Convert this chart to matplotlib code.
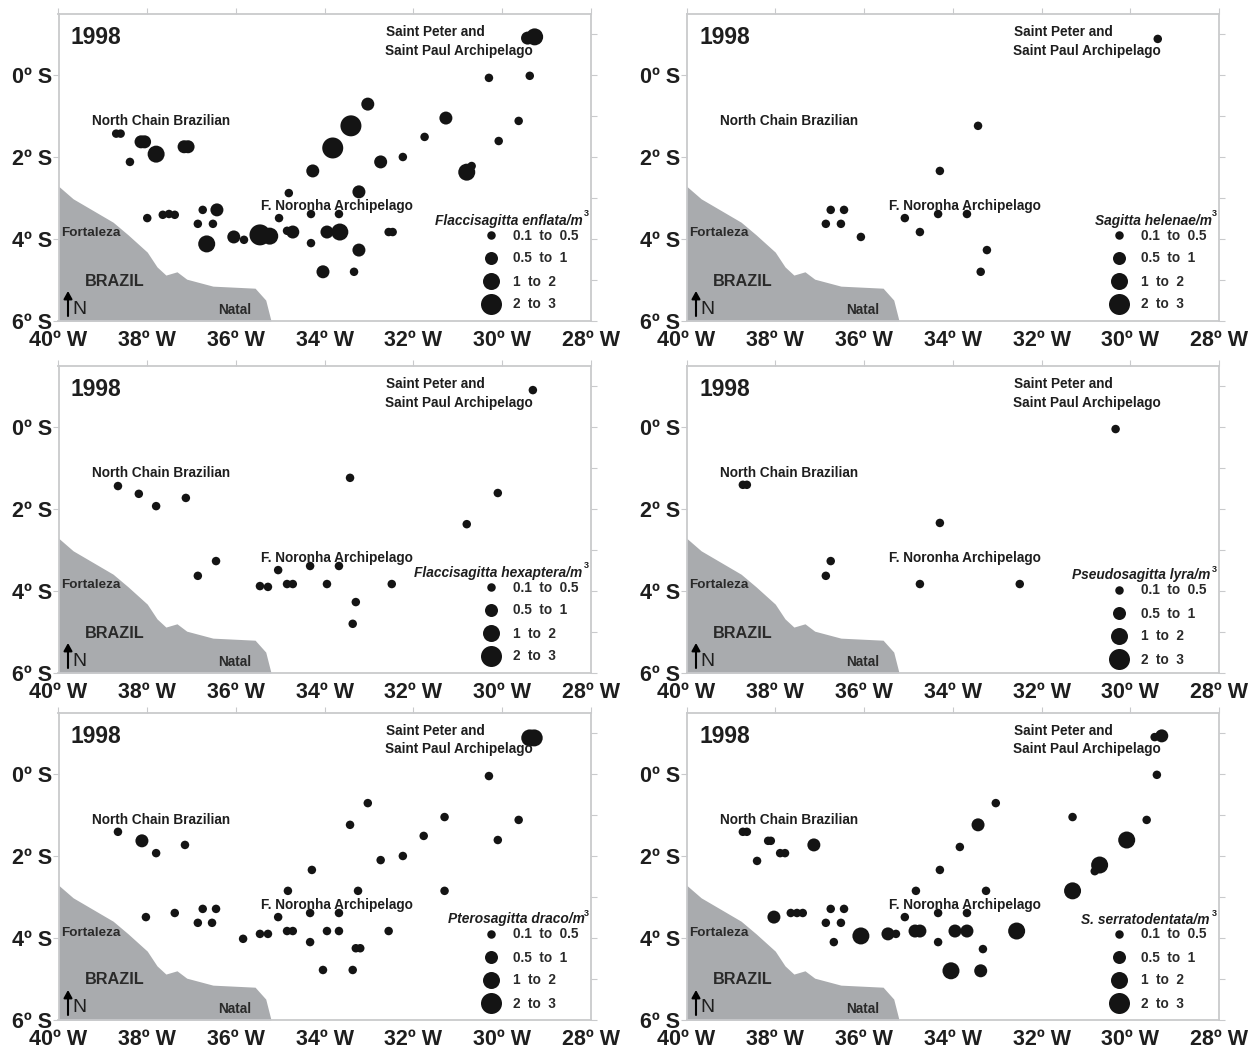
import matplotlib
matplotlib.use("Agg")
import matplotlib.pyplot as plt

W, H = 1255, 1049
plt.rcParams['font.family'] = ['Liberation Sans', 'DejaVu Sans']

# Stations: (longitude W, latitude S, size class 0..3)
enflata = [(38.7,1.43,0),(38.6,1.43,0),(38.14,1.63,1),(38.06,1.63,1),(37.80,1.93,2),(37.17,1.75,1),(37.08,1.75,1),
 (38.39,2.12,0),(38.0,3.49,0),(37.65,3.41,0),(37.51,3.39,0),(37.38,3.41,0),(36.75,3.29,0),(36.43,3.29,1),
 (36.86,3.63,0),(36.52,3.63,0),(36.66,4.12,2),(36.05,3.95,1),(35.82,4.02,0),(35.46,3.90,3),(35.24,3.93,2),
 (35.03,3.49,0),(34.81,2.88,0),(34.27,2.34,1),(34.31,3.39,0),(34.85,3.80,0),(34.72,3.83,1),(34.31,4.10,0),
 (34.04,4.80,1),(29.43,-0.90,1),(29.27,-0.93,2),(30.30,0.07,0),(29.38,0.02,0),(33.03,0.71,1),(31.27,1.05,1),
 (33.41,1.24,3),(29.63,1.12,0),(31.75,1.51,0),(30.08,1.61,0),(33.82,1.78,3),(32.74,2.12,1),(32.24,2.0,0),
 (30.69,2.22,0),(30.80,2.37,2),(33.23,2.85,1),(33.68,3.39,0),(33.95,3.83,1),(33.66,3.83,2),(32.56,3.83,0),
 (32.47,3.83,0),(33.23,4.27,1),(33.34,4.80,0)]
helenae = [(29.38,-0.88,0),(33.43,1.24,0),(34.29,2.34,0),(36.75,3.29,0),(36.45,3.29,0),(36.86,3.63,0),(36.52,3.63,0),
 (36.07,3.95,0),(35.08,3.49,0),(34.74,3.83,0),(34.33,3.39,0),(33.68,3.39,0),(33.23,4.27,0),(33.37,4.80,0)]
hexaptera = [(29.31,-0.90,0),(33.43,1.24,0),(30.10,1.61,0),(38.66,1.44,0),(38.19,1.63,0),(37.80,1.93,0),(37.13,1.73,0),
 (30.80,2.37,0),(36.45,3.27,0),(36.86,3.63,0),(35.05,3.49,0),(34.33,3.39,0),(33.68,3.39,0),(35.46,3.88,0),
 (35.28,3.90,0),(34.85,3.83,0),(34.72,3.83,0),(33.95,3.83,0),(32.49,3.83,0),(33.30,4.27,0),(33.37,4.80,0)]
lyra = [(30.33,0.05,0),(38.73,1.41,0),(38.64,1.41,0),(34.29,2.34,0),(36.75,3.27,0),(36.86,3.63,0),(34.74,3.83,0),(32.49,3.83,0)]
draco = [(29.38,-0.88,2),(29.28,-0.88,2),(30.30,0.05,0),(33.03,0.71,0),(31.30,1.05,0),(33.43,1.24,0),(29.63,1.12,0),
 (31.77,1.51,0),(30.10,1.61,0),(38.66,1.41,0),(38.12,1.63,1),(37.80,1.93,0),(37.15,1.73,0),(32.74,2.10,0),
 (32.24,2.0,0),(34.29,2.34,0),(34.83,2.85,0),(33.25,2.85,0),(31.30,2.85,0),(38.03,3.49,0),(37.38,3.39,0),
 (36.75,3.29,0),(36.45,3.29,0),(36.86,3.63,0),(36.54,3.63,0),(35.05,3.49,0),(34.33,3.39,0),(33.68,3.39,0),
 (35.84,4.02,0),(35.46,3.90,0),(35.28,3.90,0),(34.85,3.83,0),(34.72,3.83,0),(33.95,3.83,0),(33.68,3.83,0),
 (32.56,3.83,0),(33.30,4.25,0),(33.20,4.25,0),(34.33,4.10,0),(34.04,4.78,0),(33.37,4.78,0)]
serratodentata = [(29.45,-0.90,0),(29.29,-0.93,1),(29.40,0.02,0),(33.03,0.71,0),(31.30,1.05,0),(33.43,1.24,1),(29.63,1.12,0),
 (30.08,1.61,2),(38.73,1.41,0),(38.64,1.41,0),(38.16,1.63,0),(38.10,1.63,0),(37.89,1.93,0),(37.78,1.93,0),
 (37.13,1.73,1),(38.41,2.12,0),(33.84,1.78,0),(34.29,2.34,0),(30.69,2.22,2),(30.80,2.37,0),(34.83,2.85,0),
 (33.25,2.85,0),(31.30,2.85,2),(38.03,3.49,1),(37.65,3.39,0),(37.51,3.39,0),(37.38,3.39,0),(36.75,3.29,0),
 (36.45,3.29,0),(36.86,3.63,0),(36.52,3.63,0),(35.08,3.49,0),(34.33,3.39,0),(33.68,3.39,0),(36.68,4.10,0),
 (36.07,3.95,2),(35.46,3.90,1),(35.28,3.90,0),(34.85,3.83,1),(34.74,3.83,1),(34.33,4.10,0),(33.95,3.83,1),
 (33.68,3.83,1),(32.56,3.83,2),(33.32,4.27,0),(34.04,4.80,2),(33.37,4.80,1)]

coast_lon = [40,39.67,38.77,38.43,38.0,37.78,37.58,37.33,37.11,36.52,35.57,35.33,35.21]
coast_lat = [2.71,3.02,3.59,3.90,4.32,4.68,4.88,4.80,4.98,5.15,5.20,5.49,6.0]

size_labels = ['0.1  to  0.5', '0.5  to  1', '1  to  2', '2  to  3']
size_diam_px = [8.5, 13, 17, 21]
lon_ticks = [40,38,36,34,32,30,28]
lat_labelled = [0,2,4,6]
lat_all = [-1,0,1,2,3,4,5,6]

# (data, legend name, title left px, legend y shift px, col, row)
panels = [
 (enflata, 'Flaccisagitta enflata/m', 435, 0, 0, 0),
 (helenae, 'Sagitta helenae/m', 467, 0, 1, 0),
 (hexaptera, 'Flaccisagitta hexaptera/m', 414, 0, 0, 1),
 (lyra, 'Pseudosagitta lyra/m', 444, 3, 1, 1),
 (draco, 'Pterosagitta draco/m', 448, 0, 0, 2),
 (serratodentata, 'S. serratodentata/m', 453, 0, 1, 2),
]
col_off = [0, 628]
row_off = [0, 352, 699]
AX_L, AX_R, AX_T, AX_B = 58.5, 591, 14, 321
TXT = '#1e1e1e'
GRID = '#c9cacc'

fig = plt.figure(figsize=(W/100, H/100), dpi=100)

def px(x, y):
    """Panel-relative pixel to data coordinates."""
    return 40 - (x-AX_L)/(AX_R-AX_L)*12, (y-75)/41

for data, name, tx, dy, c, r in panels:
    xo, yo = col_off[c], row_off[r]
    ax = fig.add_axes([(AX_L+xo)/W, 1-(AX_B+yo)/H, (AX_R-AX_L)/W, (AX_B-AX_T)/H])
    ax.set_xlim(40, 28)
    ax.set_ylim(px(0, AX_B)[1], px(0, AX_T)[1])
    for s in ax.spines.values():
        s.set_color(GRID); s.set_linewidth(1.3)
    ax.fill_between(coast_lon, coast_lat, 6, color='#a9abae', lw=0, zorder=1)
    ax.set_xticks(lon_ticks, [f'{v}º W' for v in lon_ticks], fontsize=15.5, fontweight='bold', color=TXT)
    ax.set_yticks(lat_labelled, [f'{v}º S' for v in lat_labelled], fontsize=15.5, fontweight='bold', color=TXT)
    ax.tick_params(axis='x', length=0, pad=6.5)
    ax.tick_params(axis='y', length=4, color=GRID, pad=0.5)
    sx = ax.secondary_xaxis('top'); sx.set_xticks(lon_ticks, []); sx.tick_params(length=4.5, color=GRID)
    sx.spines['top'].set_visible(False)
    sy = ax.secondary_yaxis('right'); sy.set_yticks(lat_all, []); sy.tick_params(length=4.5, color=GRID)
    sy.spines['right'].set_visible(False)

    lon = [d[0] for d in data]
    lat = [d[1] for d in data]
    sz = [(size_diam_px[d[2]]*0.72)**2 for d in data]
    ax.scatter(lon, lat, s=sz, c='#141414', lw=0, zorder=3)

    def T(x, y, s, **k):
        k.setdefault('color', TXT); k.setdefault('fontweight', 'bold')
        ax.text(*px(x, y), s, ha=k.pop('ha', 'left'), va='center', zorder=4, **k)
    T(71, 37.5, '1998', fontsize=16.5)
    T(386, 32, 'Saint Peter and', fontsize=9.8)
    T(385, 50.5, 'Saint Paul Archipelago', fontsize=9.8)
    T(92, 121, 'North Chain Brazilian', fontsize=9.8)
    T(261, 206, 'F. Noronha Archipelago', fontsize=9.8)
    T(61, 233.5, 'Fortaleza', fontsize=9.7, color='#2a2a2a')
    T(85, 281, 'BRAZIL', fontsize=11.7, color='#2a2a2a')
    T(218, 310, 'Natal', fontsize=9.8, color='#2a2a2a')
    T(72, 309, 'N', fontsize=14, fontweight='normal')
    ax.annotate('', xy=px(68, 291), xytext=px(68, 316),
                arrowprops=dict(arrowstyle='-|>,head_width=0.25,head_length=0.45', color='black', lw=1.5,
                                shrinkA=0, shrinkB=0), zorder=4)
    # legend
    T(tx, 220.5+dy, name, fontsize=9.9, fontstyle='italic')
    T(584, 214+dy, '3', fontsize=6.5)
    for i, lab in enumerate(size_labels):
        y = 235 + 23*i + dy
        x0, y0 = px(491, y)
        ax.scatter([x0], [y0], s=(size_diam_px[i]*0.72)**2, c='#141414', lw=0, zorder=3)
        T(513, y + 0.5, lab, fontsize=9.8, color='#2a2a2a')

fig.savefig('out.png', dpi=100)
